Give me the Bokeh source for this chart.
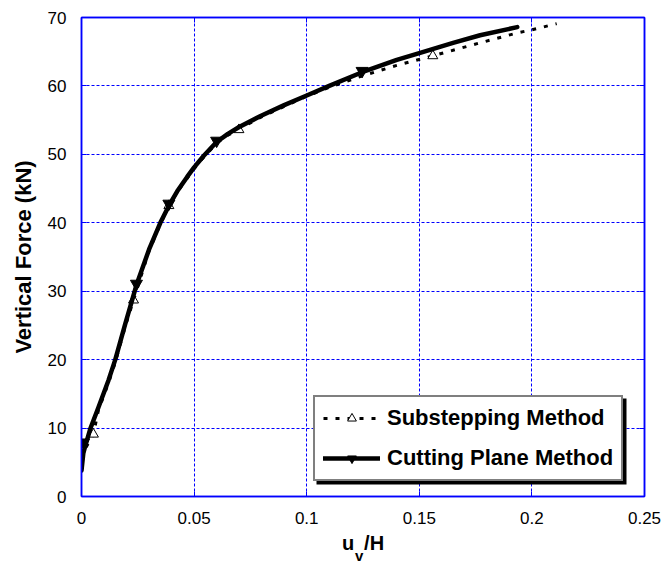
from bokeh.plotting import figure
from bokeh.models import (FixedTicker, LinearAxis, Legend, LegendItem,
                          BoxAnnotation, Range1d)
from bokeh.embed import file_html
from bokeh.resources import INLINE

# ---- data ----
cut_x = [0, 0.0008, 0.0016, 0.0039, 0.0075, 0.012, 0.015, 0.0194, 0.0244, 0.030,
         0.035, 0.0388, 0.0425, 0.0469, 0.050, 0.0543, 0.060, 0.065, 0.070, 0.0795,
         0.090, 0.100, 0.110, 0.1246, 0.140, 0.150, 0.165, 0.177, 0.1935]
cut_y = [3.8, 6.3, 7.3, 9.9, 13.0, 17.0, 20.0, 25.2, 30.9, 36.1,
         40.0, 42.5, 44.6, 46.7, 48.1, 49.8, 51.8, 53.0, 54.0, 55.6,
         57.2, 58.6, 60.0, 62.0, 63.8, 64.8, 66.3, 67.4, 68.6]
cut_mx = [0.0009, 0.0244, 0.0388, 0.060, 0.1246]
cut_my = [7.9, 31.1, 42.8, 52.0, 62.2]

sub_x = [0, 0.001, 0.0053, 0.0075, 0.012, 0.015, 0.0194, 0.0231, 0.030, 0.035,
         0.0388, 0.0425, 0.0469, 0.050, 0.0543, 0.060, 0.065, 0.0699, 0.0795, 0.090,
         0.100, 0.110, 0.125, 0.140, 0.156, 0.177, 0.1935, 0.200, 0.211]
sub_y = [3.8, 6.6, 9.1, 12.6, 16.6, 19.6, 24.8, 28.7, 35.9, 39.8,
         42.4, 44.5, 46.5, 47.9, 49.6, 51.6, 52.8, 53.7, 55.4, 57.0,
         58.5, 59.8, 61.5, 63.0, 64.4, 66.3, 67.75, 68.2, 69.1]
sub_mx = [0.0053, 0.0231, 0.0388, 0.0699, 0.156]
sub_my = [9.1, 28.7, 42.5, 53.6, 64.4]

x_ticks = [0, 0.05, 0.1, 0.15, 0.2, 0.25]
x_tick_labels = ["0", "0.05", "0.1", "0.15", "0.2", "0.25"]
y_ticks = [0, 10, 20, 30, 40, 50, 60, 70]

FONT = "Liberation Sans"
BLUE = "#0000ff"

p = figure(width=663, height=566, x_range=Range1d(0, 0.25), y_range=Range1d(0, 70),
           output_backend="svg", toolbar_location=None,
           min_border_left=81, min_border_right=19, min_border_top=17,
           min_border_bottom=70)
p.background_fill_color = "white"
p.border_fill_color = "white"
p.outline_line_color = BLUE
p.outline_line_width = 1.5

# axes
p.xaxis.ticker = FixedTicker(ticks=x_ticks)
p.xaxis.major_label_overrides = {t: l for t, l in zip(x_ticks, x_tick_labels)}
p.yaxis.ticker = FixedTicker(ticks=y_ticks)
for ax in (p.xaxis[0], p.yaxis[0]):
    ax.axis_line_color = BLUE
    ax.axis_line_width = 1.5
    ax.major_tick_line_color = BLUE
    ax.major_tick_in = 5
    ax.major_tick_out = 0
    ax.minor_tick_line_color = None
    ax.major_label_text_font = FONT
    ax.major_label_text_font_size = "17px"
    ax.major_label_text_color = "black"
p.xaxis.major_label_standoff = 15
p.yaxis.major_label_standoff = 15
p.yaxis.axis_label = "Vertical Force (kN)"
p.yaxis.axis_label_text_font = FONT
p.yaxis.axis_label_text_font_size = "22px"
p.yaxis.axis_label_text_font_style = "bold"
p.yaxis.axis_label_text_color = "black"
p.yaxis.axis_label_standoff = 9

# x axis label "u_v/H": main part on the x axis, subscript on a bare axis below
p.xaxis.axis_label = "u\u2002/H"
p.xaxis.axis_label_text_font = FONT
p.xaxis.axis_label_text_font_size = "20px"
p.xaxis.axis_label_text_font_style = "bold"
p.xaxis.axis_label_text_color = "black"
p.xaxis.axis_label_standoff = 5

sub_axis = LinearAxis(ticker=FixedTicker(ticks=[]), axis_line_color=None,
                      major_tick_line_color=None, minor_tick_line_color=None,
                      major_label_standoff=0, axis_label="v\u2002",
                      axis_label_text_font=FONT, axis_label_text_font_size="15px",
                      axis_label_text_font_style="bold", axis_label_text_color="black",
                      axis_label_standoff=-10)
p.add_layout(sub_axis, "below")

for loc, tick in (("right", y_ticks), ("above", x_ticks)):
    ax = LinearAxis(ticker=FixedTicker(ticks=tick), axis_line_color=BLUE,
                    axis_line_width=1.5, major_tick_line_color=BLUE,
                    major_tick_in=5, major_tick_out=0, minor_tick_line_color=None,
                    major_label_overrides={t: "" for t in tick},
                    major_label_text_font_size="1px", major_label_standoff=0)
    p.add_layout(ax, loc)

p.xgrid.ticker = FixedTicker(ticks=x_ticks)
p.ygrid.ticker = FixedTicker(ticks=y_ticks)
for g in (p.xgrid[0], p.ygrid[0]):
    g.grid_line_color = BLUE
    g.grid_line_dash = "3 2"
    g.grid_line_width = 1

# data
sub_line = p.line(sub_x, sub_y, line_color="black", line_width=3,
                  line_dash="4 8", line_cap="butt")
sub_pts = p.scatter(sub_mx, sub_my, marker="triangle", size=10,
                    fill_color="white", line_color="black", line_width=1)
cut_line = p.line(cut_x, cut_y, line_color="black", line_width=4.5,
                  line_join="round", line_cap="round")
cut_pts = p.scatter(cut_mx, cut_my, marker="inverted_triangle", size=12,
                    fill_color="black", line_color="black")

# legend shadow
shadow = BoxAnnotation(left=235, right=545, bottom=12, top=98,
                       left_units="screen", right_units="screen",
                       bottom_units="screen", top_units="screen",
                       fill_color="black", fill_alpha=1, line_color=None,
                       level="annotation")
p.add_layout(shadow)

legend = Legend(items=[LegendItem(label="Substepping Method", renderers=[sub_line, sub_pts]),
                       LegendItem(label="Cutting Plane Method", renderers=[cut_line, cut_pts])],
                location=(232, 15), orientation="vertical",
                label_text_font=FONT, label_text_font_size="22px",
                label_text_font_style="bold", label_text_color="black",
                glyph_width=57, glyph_height=22, label_height=22,
                label_standoff=7, spacing=14, padding=8, margin=0,
                border_line_color="black", border_line_width=2,
                background_fill_color="white", background_fill_alpha=1)
p.add_layout(legend)

open("out.html", "w").write(file_html(p, INLINE))
